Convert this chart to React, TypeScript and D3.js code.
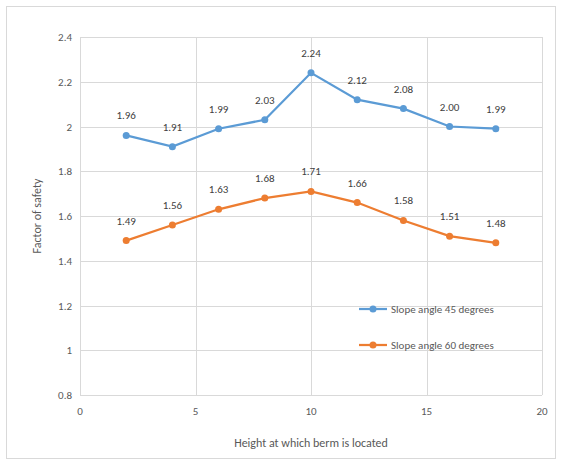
import React, { useEffect, useRef } from 'react';
import * as d3 from 'd3';

const heights = [2, 4, 6, 8, 10, 12, 14, 16, 18];
const slope45 = [1.96, 1.91, 1.99, 2.03, 2.24, 2.12, 2.08, 2.0, 1.99];
const slope60 = [1.49, 1.56, 1.63, 1.68, 1.71, 1.66, 1.58, 1.51, 1.48];
const labels45 = ['1.96', '1.91', '1.99', '2.03', '2.24', '2.12', '2.08', '2.00', '1.99'];
const labels60 = ['1.49', '1.56', '1.63', '1.68', '1.71', '1.66', '1.58', '1.51', '1.48'];
const xTicks = [0, 5, 10, 15, 20];
const yTicks = [0.8, 1, 1.2, 1.4, 1.6, 1.8, 2, 2.2, 2.4];
const seriesNames = ['Slope angle 45 degrees', 'Slope angle 60 degrees'];

const width = 561;
const height = 464;
const left = 80;
const right = 542;
const top = 37;
const bottom = 395;
const font = 'Carlito, "Liberation Sans", Arial, sans-serif';

export default function App() {
    const svgRef = useRef<SVGSVGElement>(null);

    useEffect(() => {
        const svg = d3.select(svgRef.current);
        svg.selectAll('*').remove();

        const x = d3.scaleLinear().domain([0, 20]).range([left, right]);
        const y = d3.scaleLinear().domain([0.8, 2.4]).range([bottom, top]);

        // outer frame
        svg.append('rect')
            .attr('x', 6.5).attr('y', 6.5)
            .attr('width', 549).attr('height', 452)
            .attr('fill', '#fff')
            .attr('stroke', '#d9d9d9');

        // grid
        svg.append('g')
            .selectAll('line')
            .data(yTicks)
            .join('line')
                .attr('x1', left).attr('x2', right)
                .attr('y1', d => Math.round(y(d)) + 0.5)
                .attr('y2', d => Math.round(y(d)) + 0.5)
                .attr('stroke', '#d9d9d9');

        svg.append('g')
            .selectAll('line')
            .data(xTicks)
            .join('line')
                .attr('x1', d => Math.round(x(d)) + 0.5)
                .attr('x2', d => Math.round(x(d)) + 0.5)
                .attr('y1', top).attr('y2', bottom)
                .attr('stroke', '#d9d9d9');

        // tick labels
        svg.append('g')
            .selectAll('text')
            .data(yTicks)
            .join('text')
                .attr('x', left - 8)
                .attr('y', d => y(d) + 4)
                .attr('text-anchor', 'end')
                .attr('font-family', font)
                .attr('font-size', 11)
                .attr('fill', '#595959')
                .text(d => String(d));

        svg.append('g')
            .selectAll('text')
            .data(xTicks)
            .join('text')
                .attr('x', d => x(d))
                .attr('y', bottom + 20)
                .attr('text-anchor', 'middle')
                .attr('font-family', font)
                .attr('font-size', 11)
                .attr('fill', '#595959')
                .text(d => String(d));

        // axis titles
        svg.append('text')
            .attr('x', (left + right) / 2)
            .attr('y', 447)
            .attr('text-anchor', 'middle')
            .attr('font-family', font)
            .attr('font-size', 12)
            .attr('fill', '#595959')
            .text('Height at which berm is located');

        svg.append('text')
            .attr('transform', `translate(41, ${(top + bottom) / 2}) rotate(-90)`)
            .attr('text-anchor', 'middle')
            .attr('font-family', font)
            .attr('font-size', 12)
            .attr('fill', '#595959')
            .text('Factor of safety');

        const line = d3.line<number>()
            .x((d, i) => x(heights[i]))
            .y(d => y(d));

        const series = [
            { values: slope45, labels: labels45, color: '#5b9bd5' },
            { values: slope60, labels: labels60, color: '#ed7d31' }
        ];

        series.forEach(s => {
            const g = svg.append('g');
            g.append('path')
                .datum(s.values)
                .attr('d', line)
                .attr('fill', 'none')
                .attr('stroke', s.color)
                .attr('stroke-width', 2.25);
            g.selectAll('circle')
                .data(s.values)
                .join('circle')
                    .attr('cx', (d, i) => x(heights[i]))
                    .attr('cy', d => y(d))
                    .attr('r', 3.5)
                    .attr('fill', s.color);
            g.selectAll('text')
                .data(s.values)
                .join('text')
                    .attr('x', (d, i) => x(heights[i]))
                    .attr('y', d => y(d) - 16)
                    .attr('text-anchor', 'middle')
                    .attr('font-family', font)
                    .attr('font-size', 11)
                    .attr('fill', '#404040')
                    .text((d, i) => s.labels[i]);
        });

        // legend
        const legend = svg.append('g');
        series.forEach((s, i) => {
            const ly = 309 + i * 36;
            legend.append('line')
                .attr('x1', 359).attr('x2', 387)
                .attr('y1', ly).attr('y2', ly)
                .attr('stroke', s.color)
                .attr('stroke-width', 2.25);
            legend.append('circle')
                .attr('cx', 373).attr('cy', ly)
                .attr('r', 3.5)
                .attr('fill', s.color);
            legend.append('text')
                .attr('x', 391)
                .attr('y', ly + 4)
                .attr('font-family', font)
                .attr('font-size', 11)
                .attr('fill', '#595959')
                .text(seriesNames[i]);
        });
    }, []);

    return (
        <svg
            ref={svgRef}
            width={width}
            height={height}
            style={{ position: 'absolute', left: 0, top: 0 }}
        ></svg>
    );
}
